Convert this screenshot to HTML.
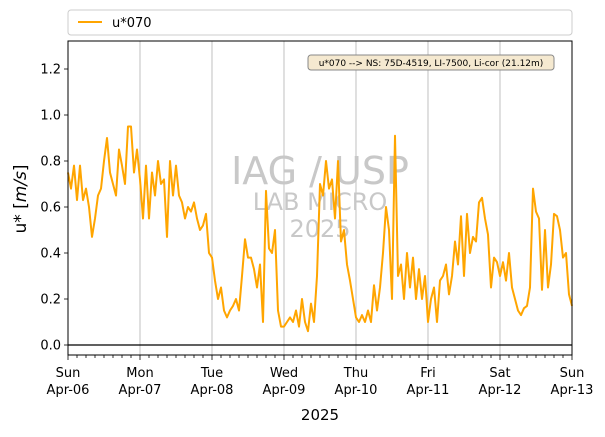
<!DOCTYPE html>
<html><head><meta charset="utf-8"><style>
body{margin:0;background:#fff;font-family:"DejaVu Sans","Liberation Sans",sans-serif;}
svg text{font-family:"DejaVu Sans","Liberation Sans",sans-serif;}
</style></head><body>
<svg id="chart" width="605" height="433" viewBox="0 0 605 433" xmlns="http://www.w3.org/2000/svg">
<rect width="605" height="433" fill="#fff"/>
<g id="grid"></g>
<g fill="#c8c8c8" text-anchor="middle">
<text x="320" y="184" font-size="38">IAG / USP</text>
<text x="320" y="210" font-size="24">LAB MICRO</text>
<text x="320" y="237" font-size="24">2025</text>
</g>
<line x1="68" y1="345" x2="572" y2="345" stroke="#000" stroke-width="1.2"/>
<path id="series" fill="none" stroke="#ffa500" stroke-width="2" stroke-linejoin="round"/>
<rect x="68" y="41" width="504" height="314" fill="none" stroke="#000" stroke-width="1"/>
<g id="axes"></g>
<g>
<rect x="308" y="55" width="246" height="15" rx="3" fill="#f5e9d0" stroke="#888"/>
<text x="431" y="66" font-size="9" text-anchor="middle">u*070 --&gt; NS: 75D-4519, LI-7500, Li-cor (21.12m)</text>
</g>
<g>
<rect x="68" y="10" width="504" height="25" rx="3" fill="#fff" stroke="#ccc"/>
<line x1="78" y1="22" x2="102" y2="22" stroke="#ffa500" stroke-width="2"/>
<text x="112" y="27" font-size="13">u*070</text>
</g>
<text x="320" y="420" font-size="15" text-anchor="middle">2025</text>
<text transform="translate(26,199) rotate(-90)" font-size="17" text-anchor="middle">u* [<tspan font-style="italic">m/s</tspan>]</text>
</svg>
<script>
const dayNames=["Sun","Mon","Tue","Wed","Thu","Fri","Sat","Sun"];
const dayDates=["Apr-06","Apr-07","Apr-08","Apr-09","Apr-10","Apr-11","Apr-12","Apr-13"];
const yTicks=[0.0,0.2,0.4,0.6,0.8,1.0,1.2];
const ustar=[
0.75,0.68,0.78,0.63,0.78,0.63,0.68,0.6,0.47,0.55,0.65,0.68,0.8,0.9,0.75,0.7,0.65,0.85,0.78,0.7,0.95,0.95,0.75,0.85,
0.72,0.55,0.78,0.55,0.75,0.65,0.8,0.7,0.72,0.47,0.8,0.65,0.78,0.65,0.62,0.55,0.6,0.58,0.62,0.55,0.5,0.52,0.57,0.4,
0.38,0.28,0.2,0.25,0.15,0.12,0.15,0.17,0.2,0.15,0.3,0.46,0.38,0.38,0.33,0.25,0.35,0.1,0.67,0.42,0.4,0.5,0.15,0.08,
0.08,0.1,0.12,0.1,0.15,0.08,0.2,0.1,0.06,0.18,0.1,0.3,0.7,0.65,0.8,0.68,0.72,0.55,0.8,0.45,0.5,0.35,0.28,0.2,
0.12,0.1,0.13,0.1,0.15,0.1,0.26,0.15,0.25,0.4,0.6,0.5,0.2,0.91,0.3,0.35,0.2,0.4,0.25,0.38,0.2,0.33,0.2,0.3,
0.1,0.2,0.25,0.1,0.28,0.3,0.35,0.22,0.3,0.45,0.35,0.56,0.3,0.57,0.4,0.47,0.45,0.62,0.64,0.55,0.48,0.25,0.38,0.36,
0.3,0.36,0.28,0.4,0.25,0.2,0.15,0.13,0.16,0.17,0.25,0.68,0.58,0.55,0.24,0.5,0.25,0.35,0.57,0.56,0.5,0.38,0.4,0.22,0.17];
const NS="http://www.w3.org/2000/svg";
const x0=68,x1=572,yTop=41,yBot=355;
function xHour(h){return x0+(x1-x0)*h/168;}
function yVal(v){return 345-230*v;}
const grid=document.getElementById('grid'),axes=document.getElementById('axes');
function mk(tag,attrs,parent){const e=document.createElementNS(NS,tag);for(const k in attrs)e.setAttribute(k,attrs[k]);parent.appendChild(e);return e;}
for(let d=1;d<dayNames.length-1;d++){
 const g=mk('line',{x1:xHour(d*24),x2:xHour(d*24),y1:yTop,y2:yBot,stroke:'#b0b0b0','stroke-width':0.8},grid);
 
 
}
for(let h=0;h<=168;h+=3){
 const major=h%24===0;
 const t=mk('line',{x1:xHour(h),x2:xHour(h),y1:yBot,y2:yBot+(major?5:3),stroke:'#000','stroke-width':0.8},axes);
 
 
}
dayNames.forEach((n,i)=>{
 const t=mk('text',{x:xHour(i*24),y:377,'font-size':13,'text-anchor':'middle'},axes);
 
 
 mk('tspan',{x:xHour(i*24)},t).textContent=n;
 mk('tspan',{x:xHour(i*24),dy:17},t).textContent=dayDates[i];
});
yTicks.forEach(v=>{
 const t=mk('line',{x1:x0-4,x2:x0,y1:yVal(v),y2:yVal(v),stroke:'#000','stroke-width':0.8},axes);
 
 
 const l=mk('text',{x:x0-7,y:yVal(v)+4.5,'font-size':13,'text-anchor':'end'},axes);
 
 
 l.textContent=v.toFixed(1);
});
const step=168/(ustar.length-1);
document.getElementById('series').setAttribute('d',ustar.map((v,i)=>(i?'L':'M')+xHour(i*step).toFixed(1)+','+yVal(v).toFixed(1)).join(''));
</script>
</body></html>
